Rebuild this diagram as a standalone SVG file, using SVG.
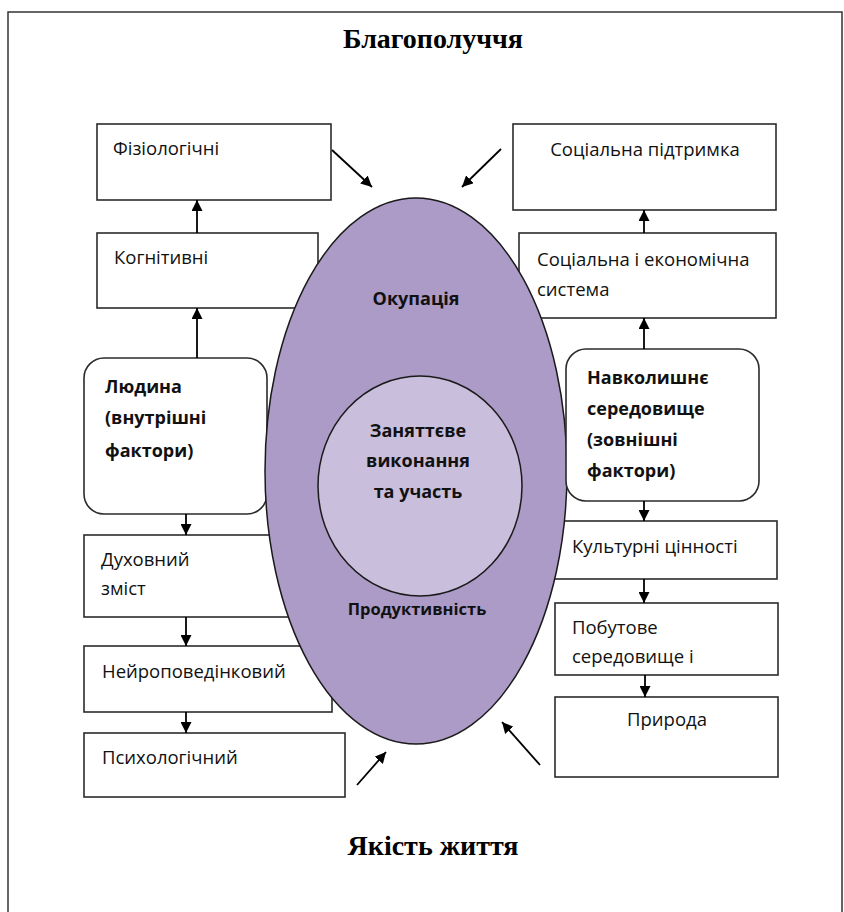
<svg xmlns="http://www.w3.org/2000/svg" width="844" height="912" viewBox="0 0 844 912">
<defs>
<marker id="ah" markerUnits="userSpaceOnUse" markerWidth="11" markerHeight="11" refX="11" refY="5.5" orient="auto">
<path d="M0,0 L11,5.5 L0,11 z" fill="#000"/>
</marker>
<style>
.box{fill:#fff;stroke:#2b2b2b;stroke-width:1.6}
.t{font-family:"Open Sans","Noto Sans",sans-serif;font-size:18.5px;fill:#111}
.b{font-family:"Open Sans","Noto Sans",sans-serif;font-size:18px;font-weight:bold;fill:#111}
.s{font-size:16.5px}
.c{text-anchor:middle}
.title{font-family:"Liberation Serif",serif;font-size:28px;font-weight:bold;fill:#000;text-anchor:middle}
.ln{stroke:#000;stroke-width:1.8;fill:none;marker-end:url(#ah)}
</style>
</defs>
<rect width="844" height="912" fill="#fff"/>
<path d="M8,930 L8,12 L842,12 L842,930" fill="none" stroke="#333" stroke-width="1.5"/>

<text class="title" x="433" y="48" textLength="180" lengthAdjust="spacingAndGlyphs">Благополуччя</text>
<text class="title" x="433" y="855" textLength="171" lengthAdjust="spacingAndGlyphs">Якість життя</text>

<g id="fiziologichni"><rect class="box" x="97" y="124" width="234" height="76"/><text class="t" x="113" y="155">Фізіологічні</text></g>
<g id="kognityvni"><rect class="box" x="97" y="233" width="221" height="75"/><text class="t" x="114" y="264">Когнітивні</text></g>
<g id="lyudyna"><rect class="box" x="84" y="358" width="183" height="156" rx="20"/>
<text class="b" x="105" y="393">Людина</text><text class="b" x="105" y="424">(внутрішні</text><text class="b" x="105" y="457">фактори)</text></g>
<g id="dukhovnyi"><rect class="box" x="84" y="535" width="220" height="82"/><text class="t" x="101" y="566">Духовний</text><text class="t" x="101" y="595">зміст</text></g>
<g id="neiro"><rect class="box" x="84" y="646" width="248" height="66"/><text class="t" x="102" y="678">Нейроповедінковий</text></g>
<g id="psykho"><rect class="box" x="84" y="733" width="261" height="64"/><text class="t" x="102" y="764">Психологічний</text></g>

<g id="sots-pidtrymka"><rect class="box" x="513" y="124" width="263" height="86"/><text class="t c" x="645" y="156">Соціальна підтримка</text></g>
<g id="sots-ekon"><rect class="box" x="519" y="233" width="257" height="85"/><text class="t" x="537" y="266">Соціальна і економічна</text><text class="t" x="537" y="296">система</text></g>
<g id="kulturni"><rect class="box" x="545" y="521" width="232" height="58"/><text class="t" x="572" y="553">Культурні цінності</text></g>
<g id="pobutove"><rect class="box" x="555" y="603" width="223" height="72"/><text class="t" x="572" y="634">Побутове</text><text class="t" x="572" y="663">середовище і</text></g>
<g id="pryroda"><rect class="box" x="555" y="697" width="223" height="80"/><text class="t c" x="667" y="726">Природа</text></g>

<g id="okupatsiya">
<ellipse cx="416" cy="471" rx="151" ry="273" fill="#ab9bc6" stroke="#1a1a1a" stroke-width="1.5"/>
<text class="b c" x="416" y="305">Окупація</text>
<text class="b c s" x="417" y="615">Продуктивність</text>
</g>
<g id="vykonannya">
<ellipse cx="420" cy="486" rx="102" ry="110" fill="#c9bedb" stroke="#1a1a1a" stroke-width="1.5"/>
<text class="b c" x="418" y="437">Заняттєве</text><text class="b c" x="418" y="467">виконання</text><text class="b c" x="418" y="498">та участь</text>
</g>

<g id="navkolyshnie"><rect class="box" x="566" y="349" width="193" height="152" rx="20"/>
<text class="b" x="587" y="384">Навколишнє</text><text class="b" x="587" y="415">середовище</text><text class="b" x="587" y="446">(зовнішні</text><text class="b" x="587" y="477">фактори)</text></g>

<g id="connectors">
<line class="ln" x1="332" y1="150" x2="372" y2="187"/>
<line class="ln" x1="501" y1="149" x2="462" y2="187"/>
<line class="ln" x1="357" y1="785" x2="386" y2="752"/>
<line class="ln" x1="540" y1="765" x2="502" y2="722"/>
<line class="ln" x1="197" y1="233" x2="197" y2="200"/>
<line class="ln" x1="197" y1="358" x2="197" y2="308"/>
<line class="ln" x1="186" y1="514" x2="186" y2="535"/>
<line class="ln" x1="186" y1="617" x2="186" y2="646"/>
<line class="ln" x1="186" y1="712" x2="186" y2="733"/>
<line class="ln" x1="644" y1="233" x2="644" y2="210"/>
<line class="ln" x1="644" y1="349" x2="644" y2="318"/>
<line class="ln" x1="644" y1="501" x2="644" y2="521"/>
<line class="ln" x1="644" y1="579" x2="644" y2="603"/>
<line class="ln" x1="645" y1="675" x2="645" y2="697"/>
</g>
</svg>
